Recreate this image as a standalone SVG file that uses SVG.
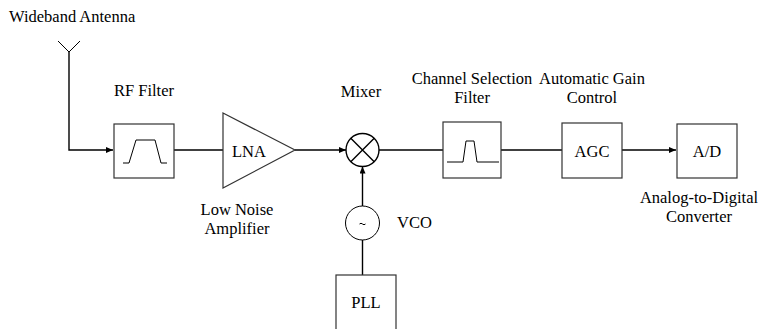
<svg xmlns="http://www.w3.org/2000/svg" width="763" height="329" viewBox="0 0 763 329">
<style>
text{font-family:'Liberation Serif','Times New Roman',Times,serif;font-size:16.5px;fill:#000}
.m{text-anchor:middle}
.box{fill:#fff;stroke:#333;stroke-width:1.2}
.ln{fill:none;stroke:#000;stroke-width:1.4}
.thin{fill:none;stroke:#000;stroke-width:1}
</style>
<defs>
<marker id="ah" markerWidth="8" markerHeight="6" refX="7" refY="3" orient="auto" markerUnits="userSpaceOnUse">
<path d="M0,0 L7,3 L0,6 z" fill="#000"/>
</marker>
</defs>
<rect width="763" height="329" fill="#fff"/>
<g id="connectors">
<path class="ln" d="M69,52 V150 H113" marker-end="url(#ah)"/>
<line class="ln" x1="174" y1="150" x2="223" y2="150"/>
<line class="ln" x1="295" y1="150" x2="346" y2="150" marker-end="url(#ah)"/>
<line class="ln" x1="379" y1="150" x2="443" y2="150"/>
<line class="ln" x1="501" y1="150" x2="562" y2="150"/>
<line class="ln" x1="622" y1="150" x2="676" y2="150" marker-end="url(#ah)"/>
<line class="ln" x1="362.5" y1="206" x2="362.5" y2="166.5" marker-end="url(#ah)"/>
<line class="ln" x1="362.5" y1="240" x2="362.5" y2="275"/>
</g>
<g id="antenna">
<path class="thin" d="M58,41 L69,52 L80,41"/>
<text x="9" y="22" font-family="Liberation Serif">Wideband Antenna</text>
</g>
<g id="rf-filter">
<rect class="box" x="114" y="124" width="60" height="54"/>
<path class="thin" d="M123,163 H129 L136,140 H155 L161,163 H167"/>
<text class="m" x="144" y="96">RF Filter</text>
</g>
<g id="lna">
<path class="box" d="M223,113 L295,150 L223,188 z"/>
<text class="m" x="249" y="157">LNA</text>
<text class="m" x="237" y="215">Low Noise</text>
<text class="m" x="237" y="234">Amplifier</text>
</g>
<g id="mixer">
<circle class="ln" cx="362.5" cy="150" r="16.5" fill="#fff"/>
<path class="ln" d="M350.8,138.3 L374.2,161.7 M374.2,138.3 L350.8,161.7"/>
<text class="m" x="361" y="97">Mixer</text>
</g>
<g id="channel-filter">
<rect class="box" x="443" y="122" width="58" height="56"/>
<path class="thin" d="M447,162 H463 L466,141 H474 L477,162 H499"/>
<text class="m" x="472" y="84">Channel Selection</text>
<text class="m" x="472" y="103">Filter</text>
</g>
<g id="agc">
<rect class="box" x="562" y="123" width="60" height="55"/>
<text class="m" x="592" y="157">AGC</text>
<text class="m" x="592" y="84">Automatic Gain</text>
<text class="m" x="592" y="103">Control</text>
</g>
<g id="adc">
<rect class="box" x="677" y="124" width="60" height="54"/>
<text class="m" x="707" y="157">A/D</text>
<text class="m" x="699" y="203">Analog-to-Digital</text>
<text class="m" x="699" y="222">Converter</text>
</g>
<g id="vco">
<circle class="thin" cx="362.5" cy="223" r="17" fill="#fff"/>
<path class="thin" d="M359.5,224 q1.5,-1.5 3,0 t3,0"/>
<text x="397" y="228">VCO</text>
</g>
<g id="pll">
<rect class="box" x="336" y="275" width="60" height="60"/>
<text class="m" x="366" y="308">PLL</text>
</g>
</svg>
